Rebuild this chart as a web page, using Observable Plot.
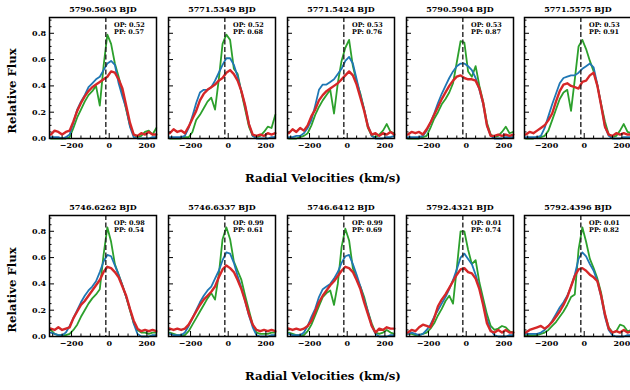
<!DOCTYPE html>
<html><head><meta charset="utf-8">
<script src="https://cdn.jsdelivr.net/npm/d3@7"></script>
<script src="https://cdn.jsdelivr.net/npm/@observablehq/plot@0.6"></script>
<style>
body{margin:0;background:#fff;}
#fig{position:relative;width:630px;height:390px;overflow:hidden;font-family:"DejaVu Serif",serif;font-weight:bold;color:#000;}
.panel{position:absolute;}
.lab{position:absolute;font-size:11.7px;line-height:11.7px;white-space:nowrap;}
</style></head><body><div id="fig"></div>
<script>
// Radial velocity grid (km/s)
const velocity = [-310,-290,-270,-250,-230,-210,-190,-170,-150,-130,-110,-90,-70,-50,-30,-10,10,30,50,70,90,110,130,150,170,190,210,230,250];
const titles = ["5790.5603 BJD","5771.5349 BJD","5771.5424 BJD","5790.5904 BJD","5771.5575 BJD",
                "5746.6262 BJD","5746.6337 BJD","5746.6412 BJD","5792.4321 BJD","5792.4396 BJD"];
const opValues = ["0.52","0.52","0.53","0.53","0.53","0.98","0.99","0.99","0.01","0.01"];
const ppValues = ["0.57","0.68","0.76","0.87","0.91","0.54","0.61","0.69","0.74","0.82"];
const centerVelocity = -18;
const xMajor = [-200,0,200];
const xMinor = [-300,-250,-150,-100,-50,50,100,150,250];
const yMajor = [0,0.2,0.4,0.6,0.8];
const yMinor = [0.05,0.1,0.15,0.25,0.3,0.35,0.45,0.5,0.55,0.65,0.7,0.75,0.85,0.9];

// Blue profiles
const blue1 = [0.01,0.01,0.01,0.00,0.01,0.03,0.12,0.22,0.28,0.33,0.39,0.42,0.45,0.47,0.52,0.57,0.59,0.56,0.42,0.32,0.23,0.09,0.01,0.00,0.00,0.00,0.00,0.01,0.01];
const blue2 = [0.01,0.01,0.01,0.01,0.02,0.08,0.17,0.27,0.35,0.37,0.37,0.39,0.44,0.50,0.56,0.61,0.61,0.56,0.47,0.36,0.25,0.11,0.02,0.00,0.00,0.00,0.00,0.01,0.01];
const blue3 = [0.01,0.01,0.02,0.02,0.04,0.08,0.14,0.25,0.37,0.41,0.41,0.43,0.45,0.49,0.53,0.59,0.62,0.57,0.45,0.33,0.22,0.10,0.02,0.00,0.00,0.00,0.01,0.01,0.02];
const blue4 = [0.01,0.01,0.01,0.01,0.02,0.06,0.12,0.19,0.27,0.34,0.40,0.46,0.51,0.55,0.57,0.57,0.55,0.52,0.46,0.37,0.26,0.10,0.02,0.00,0.00,0.00,0.01,0.01,0.01];
const blue5 = [0.01,0.01,0.01,0.01,0.02,0.08,0.17,0.26,0.34,0.42,0.46,0.47,0.48,0.48,0.50,0.53,0.55,0.57,0.54,0.41,0.25,0.09,0.02,0.00,0.00,0.00,0.01,0.01,0.01];
const blue6 = [0.03,0.02,0.01,0.01,0.03,0.08,0.14,0.20,0.26,0.31,0.35,0.38,0.42,0.49,0.57,0.62,0.61,0.54,0.47,0.39,0.30,0.21,0.10,0.02,0.00,0.00,0.00,0.01,0.01];
const blue7 = [0.02,0.01,0.01,0.01,0.03,0.08,0.14,0.20,0.26,0.31,0.35,0.38,0.44,0.50,0.58,0.64,0.63,0.56,0.46,0.37,0.27,0.16,0.07,0.01,0.00,0.00,0.00,0.01,0.01];
const blue8 = [0.02,0.01,0.01,0.01,0.03,0.08,0.15,0.21,0.30,0.36,0.38,0.40,0.44,0.49,0.56,0.61,0.62,0.55,0.47,0.38,0.28,0.19,0.08,0.02,0.00,0.00,0.00,0.01,0.01];
const blue9 = [0.02,0.03,0.02,0.01,0.02,0.05,0.09,0.15,0.20,0.25,0.30,0.36,0.43,0.51,0.60,0.63,0.59,0.55,0.47,0.37,0.25,0.13,0.05,0.01,0.00,0.00,0.00,0.01,0.01];
const blue10 = [0.02,0.02,0.02,0.02,0.03,0.05,0.08,0.12,0.17,0.22,0.26,0.31,0.38,0.47,0.59,0.64,0.61,0.55,0.50,0.42,0.30,0.15,0.05,0.01,0.00,0.00,0.00,0.01,0.01];

// Green profiles
const green1 = [0.00,0.00,0.00,0.00,0.00,0.01,0.08,0.16,0.22,0.28,0.33,0.36,0.40,0.25,0.55,0.79,0.72,0.57,0.47,0.35,0.22,0.10,0.03,0.01,0.02,0.05,0.06,0.03,0.08];
const green2 = [0.00,0.00,0.00,0.00,0.01,0.01,0.05,0.14,0.18,0.23,0.28,0.31,0.22,0.45,0.72,0.79,0.75,0.53,0.49,0.35,0.22,0.09,0.02,0.01,0.02,0.05,0.09,0.08,0.18];
const green3 = [0.00,0.00,0.00,0.01,0.02,0.04,0.10,0.18,0.24,0.29,0.33,0.37,0.19,0.42,0.59,0.69,0.75,0.55,0.43,0.34,0.22,0.08,0.02,0.01,0.03,0.06,0.11,0.05,0.04];
const green4 = [0.00,0.00,0.00,0.00,0.01,0.02,0.08,0.15,0.20,0.26,0.30,0.35,0.42,0.58,0.74,0.73,0.51,0.47,0.55,0.40,0.28,0.12,0.03,0.01,0.02,0.05,0.09,0.04,0.05];
const green5 = [0.00,0.00,0.00,0.01,0.01,0.02,0.06,0.14,0.22,0.30,0.35,0.37,0.21,0.45,0.70,0.75,0.68,0.59,0.51,0.40,0.26,0.13,0.03,0.01,0.02,0.06,0.11,0.05,0.04];
const green6 = [0.05,0.02,0.01,0.01,0.01,0.02,0.05,0.09,0.15,0.20,0.25,0.29,0.32,0.36,0.62,0.83,0.72,0.55,0.47,0.39,0.30,0.20,0.10,0.05,0.03,0.03,0.02,0.03,0.03];
const green7 = [0.03,0.02,0.01,0.01,0.01,0.04,0.09,0.14,0.19,0.24,0.29,0.33,0.28,0.47,0.74,0.83,0.74,0.57,0.50,0.43,0.31,0.20,0.09,0.03,0.02,0.02,0.02,0.03,0.03];
const green8 = [0.03,0.02,0.01,0.01,0.01,0.04,0.09,0.16,0.23,0.30,0.33,0.35,0.24,0.40,0.68,0.82,0.73,0.52,0.44,0.38,0.30,0.19,0.10,0.03,0.02,0.03,0.05,0.03,0.02];
const green9 = [0.02,0.02,0.01,0.01,0.02,0.03,0.06,0.10,0.16,0.21,0.27,0.31,0.25,0.52,0.80,0.80,0.66,0.55,0.58,0.41,0.29,0.17,0.08,0.05,0.06,0.08,0.07,0.04,0.03];
const green10 = [0.01,0.01,0.01,0.01,0.02,0.03,0.05,0.08,0.11,0.15,0.19,0.24,0.30,0.32,0.66,0.83,0.72,0.59,0.52,0.44,0.33,0.17,0.07,0.03,0.04,0.09,0.08,0.04,0.05];

// Red profiles
const red1 = [0.03,0.06,0.05,0.03,0.05,0.06,0.13,0.21,0.27,0.32,0.36,0.39,0.41,0.43,0.45,0.47,0.51,0.50,0.45,0.38,0.25,0.12,0.03,0.02,0.04,0.03,0.05,0.03,0.03];
const red2 = [0.04,0.07,0.05,0.06,0.04,0.09,0.15,0.21,0.29,0.34,0.37,0.39,0.41,0.44,0.46,0.50,0.52,0.49,0.44,0.36,0.25,0.11,0.03,0.02,0.03,0.02,0.04,0.03,0.04];
const red3 = [0.04,0.07,0.05,0.08,0.06,0.10,0.17,0.22,0.29,0.33,0.36,0.38,0.40,0.42,0.45,0.48,0.51,0.48,0.41,0.31,0.21,0.09,0.03,0.04,0.02,0.04,0.03,0.05,0.03];
const red4 = [0.03,0.05,0.04,0.05,0.03,0.07,0.12,0.18,0.24,0.30,0.35,0.40,0.44,0.47,0.48,0.46,0.45,0.45,0.44,0.38,0.27,0.10,0.02,0.02,0.03,0.02,0.03,0.02,0.03];
const red5 = [0.03,0.05,0.04,0.06,0.08,0.10,0.14,0.19,0.28,0.36,0.41,0.42,0.40,0.39,0.38,0.43,0.44,0.48,0.50,0.40,0.25,0.09,0.03,0.02,0.04,0.03,0.04,0.03,0.03];
const red6 = [0.06,0.05,0.07,0.05,0.06,0.07,0.14,0.19,0.24,0.27,0.31,0.35,0.39,0.43,0.49,0.53,0.52,0.49,0.45,0.38,0.31,0.21,0.12,0.06,0.04,0.05,0.04,0.05,0.04];
const red7 = [0.06,0.05,0.06,0.05,0.06,0.09,0.14,0.19,0.24,0.28,0.31,0.34,0.38,0.45,0.51,0.54,0.52,0.49,0.43,0.36,0.27,0.17,0.09,0.05,0.04,0.05,0.04,0.05,0.04];
const red8 = [0.06,0.05,0.06,0.05,0.06,0.08,0.12,0.19,0.26,0.31,0.35,0.39,0.42,0.46,0.50,0.53,0.52,0.49,0.43,0.36,0.26,0.17,0.08,0.03,0.06,0.05,0.07,0.06,0.06];
const red9 = [0.03,0.05,0.04,0.07,0.09,0.08,0.07,0.14,0.23,0.28,0.32,0.37,0.42,0.47,0.51,0.52,0.49,0.48,0.44,0.36,0.24,0.10,0.04,0.03,0.05,0.03,0.05,0.03,0.03];
const red10 = [0.03,0.05,0.06,0.07,0.08,0.06,0.08,0.11,0.15,0.19,0.24,0.30,0.38,0.46,0.51,0.52,0.50,0.47,0.45,0.42,0.31,0.17,0.06,0.03,0.04,0.03,0.05,0.03,0.04];

const blueSeries = [blue1,blue2,blue3,blue4,blue5,blue6,blue7,blue8,blue9,blue10];
const greenSeries = [green1,green2,green3,green4,green5,green6,green7,green8,green9,green10];
const redSeries = [red1,red2,red3,red4,red5,red6,red7,red8,red9,red10];

const fig = document.getElementById("fig");
const W = 107, H = 121, ml = 36, mr = 4, mt = 16, mb = 18;
const lefts = [49, 167.5, 286.5, 406, 524];
const tops = [17, 214.5];

for (let i = 0; i < 10; i++) {
  const row = Math.floor(i / 5), col = i % 5;
  const chart = Plot.plot({
    width: ml + W + mr, height: mt + H + mb,
    marginLeft: ml, marginRight: mr, marginTop: mt, marginBottom: mb,
    x: {domain: [-317, 251]},
    y: {domain: [0, 0.92]},
    style: "font-family:'DejaVu Serif',serif;font-weight:bold;font-size:8px;color:#000;background:transparent;overflow:visible;",
    marks: [
      Plot.line(greenSeries[i], {x: velocity, y: d => d, stroke: "#2ca02c", strokeWidth: 1.8}),
      Plot.line(blueSeries[i], {x: velocity, y: d => d, stroke: "#1f77b4", strokeWidth: 1.8}),
      Plot.line(redSeries[i], {x: velocity, y: d => d, stroke: "#d62728", strokeWidth: 2.4}),
      Plot.ruleX([centerVelocity], {stroke: "#222", strokeWidth: 1.4, strokeDasharray: "5,2.5"}),
      Plot.tickX(xMajor, {x: d => d, insetTop: H - 5, stroke: "#000", strokeWidth: 1}),
      Plot.tickX(xMinor, {x: d => d, insetTop: H - 2.5, stroke: "#000", strokeWidth: 1}),
      Plot.tickY(yMajor, {y: d => d, insetRight: W - 5, stroke: "#000", strokeWidth: 1}),
      Plot.tickY(yMinor, {y: d => d, insetRight: W - 2.5, stroke: "#000", strokeWidth: 1}),
      Plot.axisX(xMajor, {tickSize: 0, tickPadding: 4, fontSize: 8, fill: "#000"}),
      col === 0
        ? Plot.axisY(yMajor, {tickSize: 0, tickPadding: 3.5, fontSize: 8, fill: "#000", tickFormat: d3.format(".1f")})
        : Plot.axisY([], {tickSize: 0}),
      Plot.frame({stroke: "#000", strokeWidth: 1.5}),
      Plot.text([titles[i]], {text: d => d, frameAnchor: "top", dy: -6, lineAnchor: "bottom", fontSize: 8, fill: "#000"}),
      Plot.text([`OP: ${opValues[i]}`], {text: d => d, frameAnchor: "top-left", dx: 64.5, dy: 4.5, lineAnchor: "top", textAnchor: "start", fontSize: 6.5, fill: "#000"}),
      Plot.text([`PP: ${ppValues[i]}`], {text: d => d, frameAnchor: "top-left", dx: 64.5, dy: 11.5, lineAnchor: "top", textAnchor: "start", fontSize: 6.5, fill: "#000"})
    ]
  });
  chart.classList.add("panel");
  chart.style.left = (lefts[col] - ml) + "px";
  chart.style.top = (tops[row] - mt) + "px";
  fig.appendChild(chart);
}

function addLabel(text, x, y, rotate) {
  const d = document.createElement("div");
  d.className = "lab";
  d.textContent = text;
  d.style.left = x + "px";
  d.style.top = y + "px";
  d.style.transform = rotate ? "translate(-50%,-50%) rotate(-90deg)" : "translate(-50%,0)";
  fig.appendChild(d);
}
addLabel("Relative Flux", 13, 91, true);
addLabel("Relative Flux", 13, 290, true);
addLabel("Radial Velocities (km/s)", 323, 173, false);
addLabel("Radial Velocities (km/s)", 323, 371, false);
</script></body></html>
